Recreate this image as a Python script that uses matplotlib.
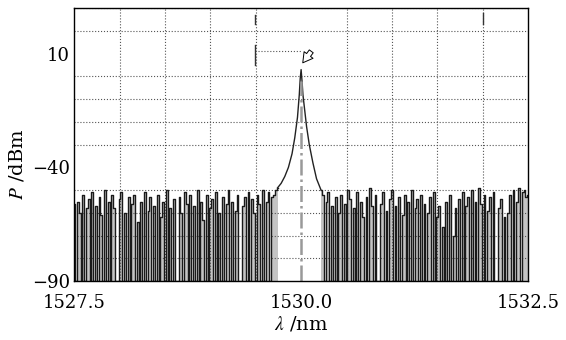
import numpy as np
import matplotlib.pyplot as plt

# noise floor, 0.02 nm steps (values in dBm, -90 = below sensitivity)
noise_left = [
    -56, -90, -55, -60, -90, -52, -90, -58, -54, -90,
    -51, -90, -57, -90, -53, -61, -90, -50, -90, -55,
    -90, -52, -58, -90, -90, -54, -51, -90, -60, -90,
    -53, -90, -56, -52, -90, -64, -90, -55, -90, -51,
    -90, -59, -53, -90, -57, -90, -52, -90, -62, -55,
    -90, -50, -90, -58, -90, -54, -90, -90, -53, -60,
    -90, -51, -56, -90, -52, -90, -57, -90, -50, -90,
    -55, -63, -90, -52, -90, -58, -54, -90, -51, -90,
    -60, -90, -53, -90, -56, -50, -90, -55, -90, -59,
    -52, -90, -90, -57, -53, -90, -51, -90, -54, -60,
    -90, -52, -56, -90, -50, -90, -55, -51, -90, -53,
    -52, -50, -49]
noise_right = [
    -50, -52, -90, -55, -51, -90, -57, -90, -53, -90,
    -60, -52, -90, -56, -90, -50, -54, -90, -58, -90,
    -51, -90, -55, -62, -90, -53, -90, -49, -57, -90,
    -52, -90, -90, -56, -51, -90, -59, -90, -54, -50,
    -90, -57, -90, -53, -90, -61, -52, -90, -55, -90,
    -50, -90, -58, -54, -90, -52, -90, -56, -90, -60,
    -53, -90, -51, -90, -62, -57, -90, -66, -90, -55,
    -90, -52, -90, -70, -58, -90, -54, -90, -51, -90,
    -57, -53, -90, -50, -90, -55, -90, -49, -56, -90,
    -52, -90, -59, -53, -90, -51, -90, -90, -58, -54,
    -90, -62, -90, -60, -52, -90, -50, -90, -55, -49,
    -90, -51, -50, -53, -52]
wl_left = 1527.50 + 0.02 * np.arange(len(noise_left))
wl_right = 1530.22 + 0.02 * np.arange(len(noise_right))

# laser peak
peak_wl = [1529.74, 1529.78, 1529.82, 1529.86, 1529.90, 1529.93, 1529.96,
           1529.98, 1529.99, 1530.00, 1530.01, 1530.02, 1530.04, 1530.06,
           1530.09, 1530.13, 1530.17, 1530.22]
peak_p = [-49, -47, -44, -40, -34, -27, -18, -8, -1, 3, -2, -8, -15, -22,
          -30, -38, -45, -50]

plt.rcParams['mathtext.fontset'] = 'stix'
plt.rcParams['font.family'] = 'DejaVu Serif'

fig = plt.figure(figsize=(5.66, 3.4), dpi=100)
ax = fig.add_axes([0.131, 0.173, 0.802, 0.803])

for w, n in [(wl_left, noise_left), (wl_right, noise_right)]:
    ax.fill_between(w, -90, n, step='mid', color='#c4c4c4', lw=0, zorder=1)
    ax.plot(w, n, color='#1a1a1a', lw=1.0, drawstyle='steps-mid', zorder=3)
ax.plot(peak_wl, peak_p, color='#222222', lw=1.0, zorder=3)

# marker lines
ax.plot([1530.0, 1530.0], [-90, -2], color='#999999', lw=1.8, ls='-.', zorder=4)
ax.plot([1529.52, 1530.0], [11, 11], color='#555555', lw=0.8, ls=':')
ax.plot([1529.49, 1529.49], [5, 14], color='#333333', lw=1.0)
ax.plot([1529.49, 1529.49], [23, 27], color='#333333', lw=1.0)
ax.plot([1532.0, 1532.0], [23, 28], color='#333333', lw=1.0)
ax.annotate('', xy=(1530.0, 5), xytext=(1530.13, 12),
            arrowprops=dict(arrowstyle='simple,head_length=0.7,head_width=0.8,tail_width=0.35',
                            fc='white', ec='black', lw=0.7))

ax.set_xlim(1527.5, 1532.5)
ax.set_ylim(-90, 30)
ax.set_xticks([1527.5, 1530.0, 1532.5])
ax.set_xticklabels(['1527.5', '1530.0', '1532.5'])
ax.set_yticks([10, -40, -90])
ax.set_yticklabels(['10', '\u221240', '\u221290'])
ax.set_xticks(np.arange(1527.5, 1532.51, 0.5), minor=True)
ax.set_yticks(np.arange(-90, 31, 10), minor=True)
ax.grid(True, which='minor', color='#555555', ls=':', lw=0.8, zorder=2)
ax.tick_params(which='both', length=0, labelsize=13)
ax.tick_params(axis='x', pad=9)
ax.tick_params(axis='y', pad=3)
for s in ax.spines.values():
    s.set_linewidth(1.0)
    s.set_zorder(5)

ax.set_xlabel(r'$\lambda$ /nm', fontsize=14, labelpad=2)
ax.set_ylabel(r'$P$ /dBm', fontsize=14, labelpad=2)
ax.yaxis.set_label_coords(-0.105, 0.43)

fig.savefig('out.png', dpi=100)
